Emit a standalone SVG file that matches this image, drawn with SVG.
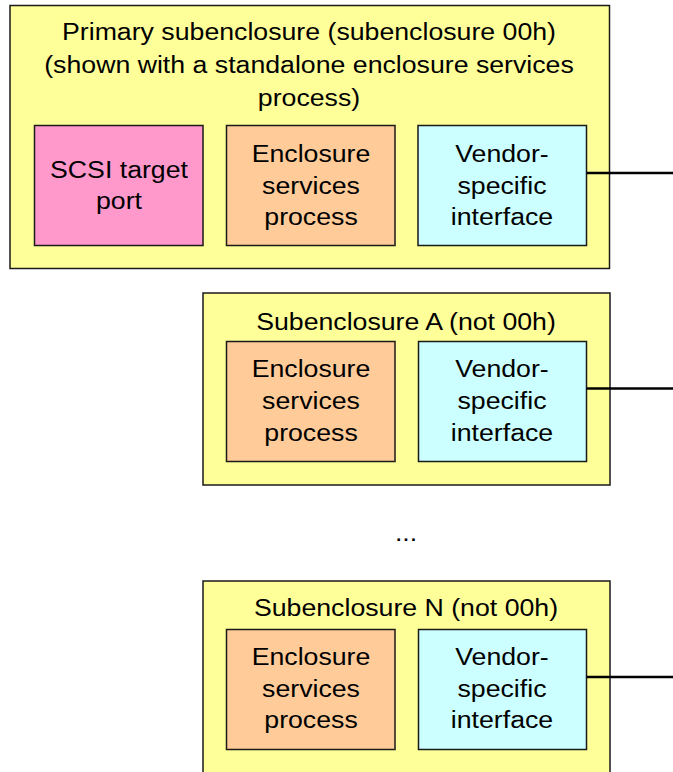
<svg xmlns="http://www.w3.org/2000/svg" width="673" height="772" viewBox="0 0 673 772">
<style>
.box{stroke:#1a1a1a;stroke-width:1.5}
.outer{fill:#FFFF99}
.pink{fill:#FF99CC}
.orange{fill:#FFCC99}
.cyan{fill:#CCFFFF}
text{font-family:"Liberation Sans",Arial,sans-serif;font-size:24.5px;fill:#000;text-anchor:middle}
.conn{stroke:#000;stroke-width:2.5;fill:none}
</style>
<rect width="673" height="772" fill="#fff"/>
<g id="primary">
<rect class="box outer" x="10" y="5.5" width="599.5" height="263"/>
<text transform="translate(309 40) scale(1.09 1)">Primary subenclosure (subenclosure 00h)</text>
<text transform="translate(309 73) scale(1.09 1)">(shown with a standalone enclosure services</text>
<text transform="translate(309 106) scale(1.09 1)">process)</text>
</g>
<g id="scsi-port">
<rect class="box pink" x="34.5" y="125.5" width="168.5" height="120"/>
<text transform="translate(119 178) scale(1.09 1)">SCSI target</text>
<text transform="translate(119 209) scale(1.09 1)">port</text>
</g>
<g id="primary-esp">
<rect class="box orange" x="226.5" y="125.5" width="168.5" height="120"/>
<text transform="translate(311 162) scale(1.09 1)">Enclosure</text>
<text transform="translate(311 194) scale(1.09 1)">services</text>
<text transform="translate(311 225) scale(1.09 1)">process</text>
</g>
<g id="primary-vsi">
<rect class="box cyan" x="418" y="125.5" width="168.5" height="120"/>
<text transform="translate(502 162) scale(1.09 1)">Vendor-</text>
<text transform="translate(502 194) scale(1.09 1)">specific</text>
<text transform="translate(502 225) scale(1.09 1)">interface</text>
</g>
<g id="subA">
<rect class="box outer" x="203" y="293" width="407" height="192"/>
<text transform="translate(406 330) scale(1.09 1)">Subenclosure A (not 00h)</text>
</g>
<g id="subA-esp">
<rect class="box orange" x="226.5" y="341.5" width="168.5" height="120"/>
<text transform="translate(311 377) scale(1.09 1)">Enclosure</text>
<text transform="translate(311 409) scale(1.09 1)">services</text>
<text transform="translate(311 441) scale(1.09 1)">process</text>
</g>
<g id="subA-vsi">
<rect class="box cyan" x="418.5" y="341.5" width="168" height="120"/>
<text transform="translate(502 377) scale(1.09 1)">Vendor-</text>
<text transform="translate(502 409) scale(1.09 1)">specific</text>
<text transform="translate(502 441) scale(1.09 1)">interface</text>
</g>
<text id="ellipsis" transform="translate(406 541) scale(1.09 1)">...</text>
<g id="subN">
<rect class="box outer" x="203" y="581" width="407" height="200"/>
<text transform="translate(406 616) scale(1.09 1)">Subenclosure N (not 00h)</text>
</g>
<g id="subN-esp">
<rect class="box orange" x="226.5" y="629.5" width="168.5" height="120"/>
<text transform="translate(311 665) scale(1.09 1)">Enclosure</text>
<text transform="translate(311 697) scale(1.09 1)">services</text>
<text transform="translate(311 728) scale(1.09 1)">process</text>
</g>
<g id="subN-vsi">
<rect class="box cyan" x="418.5" y="629.5" width="168" height="120"/>
<text transform="translate(502 665) scale(1.09 1)">Vendor-</text>
<text transform="translate(502 697) scale(1.09 1)">specific</text>
<text transform="translate(502 728) scale(1.09 1)">interface</text>
</g>
<g id="connectors">
<line class="conn" x1="586.5" y1="173" x2="673" y2="173"/>
<line class="conn" x1="586.5" y1="388.5" x2="673" y2="388.5"/>
<line class="conn" x1="586.5" y1="677" x2="673" y2="677"/>
</g>
</svg>
